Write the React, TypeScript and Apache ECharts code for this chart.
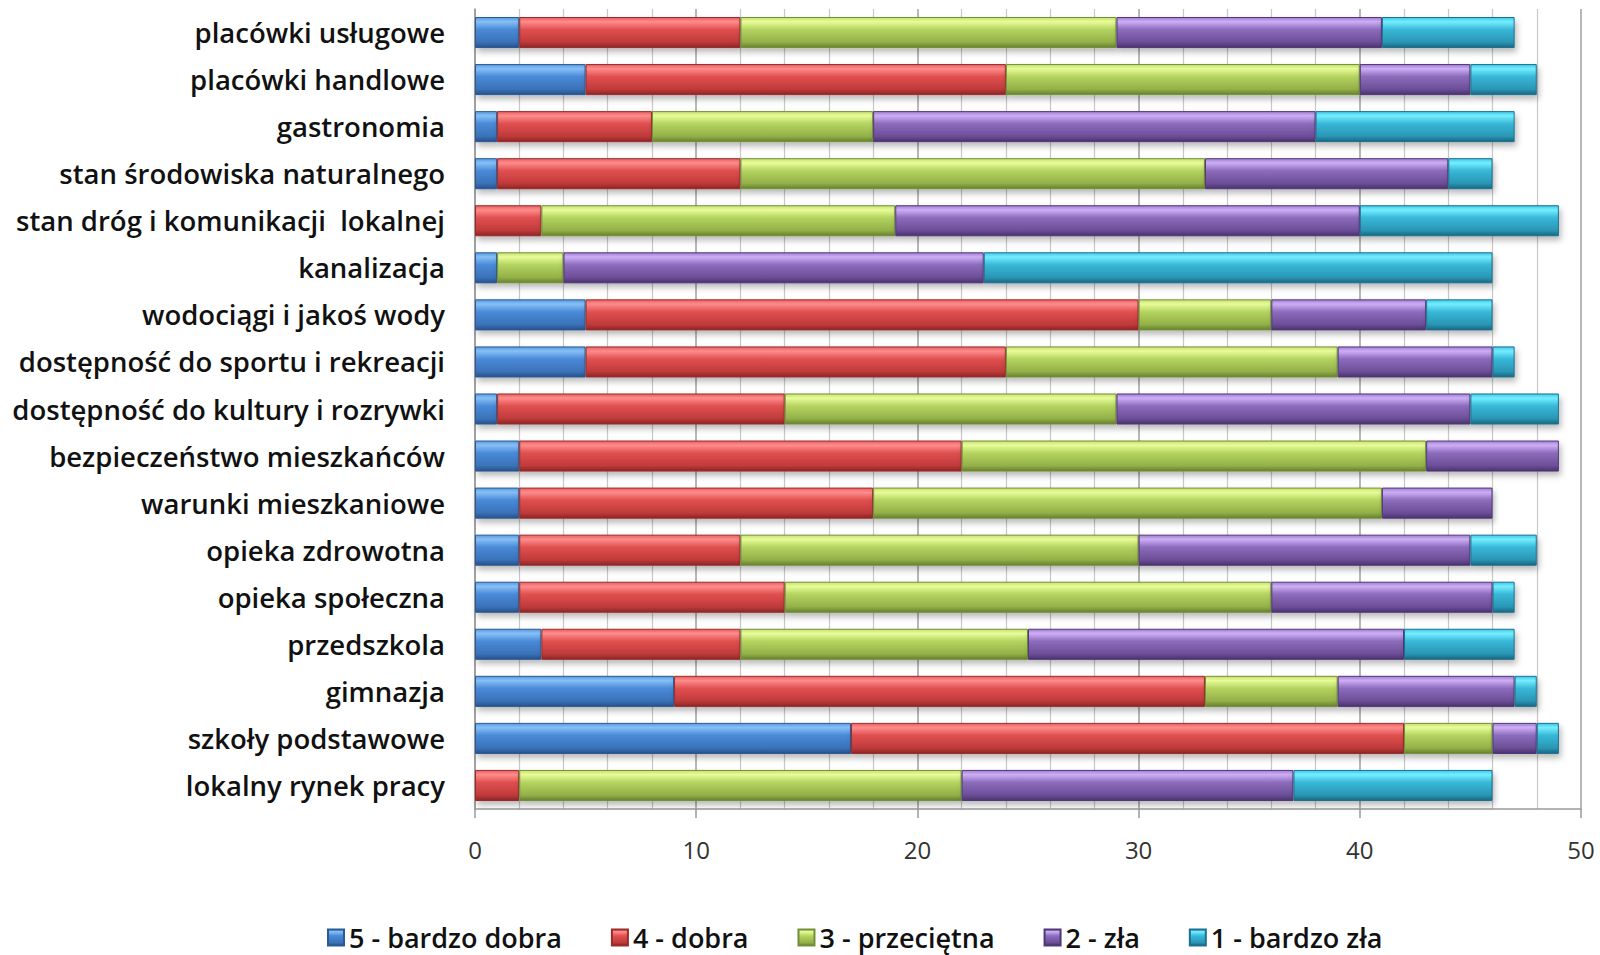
import React, { useEffect, useRef } from "react";
import * as echarts from "echarts";

const categories = [
  "placówki usługowe",
  "placówki handlowe",
  "gastronomia",
  "stan środowiska naturalnego",
  "stan dróg i komunikacji  lokalnej",
  "kanalizacja",
  "wodociągi i jakoś wody",
  "dostępność do sportu i rekreacji",
  "dostępność do kultury i rozrywki",
  "bezpieczeństwo mieszkańców",
  "warunki mieszkaniowe",
  "opieka zdrowotna",
  "opieka społeczna",
  "przedszkola",
  "gimnazja",
  "szkoły podstawowe",
  "lokalny rynek pracy",
];

const seriesNames = ["5 - bardzo dobra", "4 - dobra", "3 - przeciętna", "2 - zła", "1 - bardzo zła"];

const veryGood = [2, 5, 1, 1, 0, 1, 5, 5, 1, 2, 2, 2, 2, 3, 9, 17, 0];
const good = [10, 19, 7, 11, 3, 0, 25, 19, 13, 20, 16, 10, 12, 9, 24, 25, 2];
const average = [17, 16, 10, 21, 16, 3, 6, 15, 15, 21, 23, 18, 22, 13, 6, 4, 20];
const bad = [12, 5, 20, 11, 21, 19, 7, 7, 16, 6, 5, 15, 10, 17, 8, 2, 15];
const veryBad = [6, 3, 9, 2, 9, 23, 3, 1, 4, 0, 0, 3, 1, 5, 1, 1, 9];

const xTicks = [0, 10, 20, 30, 40, 50];

const palettes = [
  { stops: ["#5a9ae0", "#86c0f6", "#4a8ad8", "#3a72b8", "#28508a"], border: "#2a5a94" },
  { stops: ["#e86060", "#ff8c8c", "#e05050", "#c03a3a", "#8a2626"], border: "#9a2c2c" },
  { stops: ["#c8e070", "#e8fc98", "#b4d460", "#94b048", "#66802e"], border: "#72903a" },
  { stops: ["#a080d0", "#cdaef6", "#8c6cbc", "#6c4e98", "#4a326c"], border: "#503878" },
  { stops: ["#40c8e8", "#74eeff", "#38b8d8", "#2a96b4", "#186680"], border: "#1e7090" },
];

function grad(p: { stops: string[] }) {
  return new echarts.graphic.LinearGradient(0, 0, 0, 1, [
    { offset: 0, color: p.stops[0] },
    { offset: 0.14, color: p.stops[1] },
    { offset: 0.4, color: p.stops[2] },
    { offset: 0.82, color: p.stops[3] },
    { offset: 1, color: p.stops[4] },
  ]);
}

export default function App() {
  const ref = useRef<HTMLDivElement>(null);

  useEffect(() => {
    if (!ref.current) return;
    const chart = echarts.init(ref.current, null, { renderer: "svg" });
    const all = [veryGood, good, average, bad, veryBad];
    const font = "'Open Sans', 'Noto Sans', sans-serif";
    chart.setOption({
      animation: false,
      backgroundColor: "#ffffff",
      textStyle: { fontFamily: font },
      grid: { left: 475, right: 19, top: 9, bottom: 146, containLabel: false },
      legend: {
        data: seriesNames,
        left: 322,
        top: 919,
        itemWidth: 16,
        itemHeight: 16,
        itemGap: 49,
        textStyle: { fontSize: 27, fontWeight: 600, color: "#111", fontFamily: font },
        icon: "rect",
      },
      xAxis: {
        type: "value",
        min: xTicks[0],
        max: xTicks[xTicks.length - 1],
        interval: 10,
        axisLine: { show: true, lineStyle: { color: "#9a9a9a", width: 1.5 } },
        axisTick: { show: true, length: 9, lineStyle: { color: "#9a9a9a", width: 1.5 } },
        axisLabel: { fontSize: 24, color: "#333", margin: 28, fontFamily: font },
        splitLine: { show: true, lineStyle: { color: "#a0a0a0", width: 1.5 } },
        minorTick: { show: false, splitNumber: 5 },
        minorSplitLine: { show: true, lineStyle: { color: "#c8c8c8", width: 1.2 } },
      },
      yAxis: {
        type: "category",
        data: categories,
        inverse: true,
        axisLine: { show: true, lineStyle: { color: "#9a9a9a", width: 1.5 } },
        axisTick: { show: false },
        axisLabel: { fontSize: 27.5, fontWeight: 600, color: "#111", margin: 30, fontFamily: font },
        splitLine: { show: false },
      },
      series: all.map((arr, i) => ({
        name: seriesNames[i],
        type: "bar",
        stack: "total",
        barWidth: "66%",
        data: arr.map((v) => (v === 0 ? "-" : v)),
        itemStyle: {
          color: grad(palettes[i]),
          borderColor: palettes[i].border,
          borderWidth: 1,
          shadowBlur: 6,
          shadowOffsetX: 2,
          shadowOffsetY: 4,
          shadowColor: "rgba(0,0,0,0.28)",
        },
      })),
    });
    return () => chart.dispose();
  }, []);

  return <div ref={ref} style={{ width: 1600, height: 955, position: "absolute", left: 0, top: 0 }} />;
}
